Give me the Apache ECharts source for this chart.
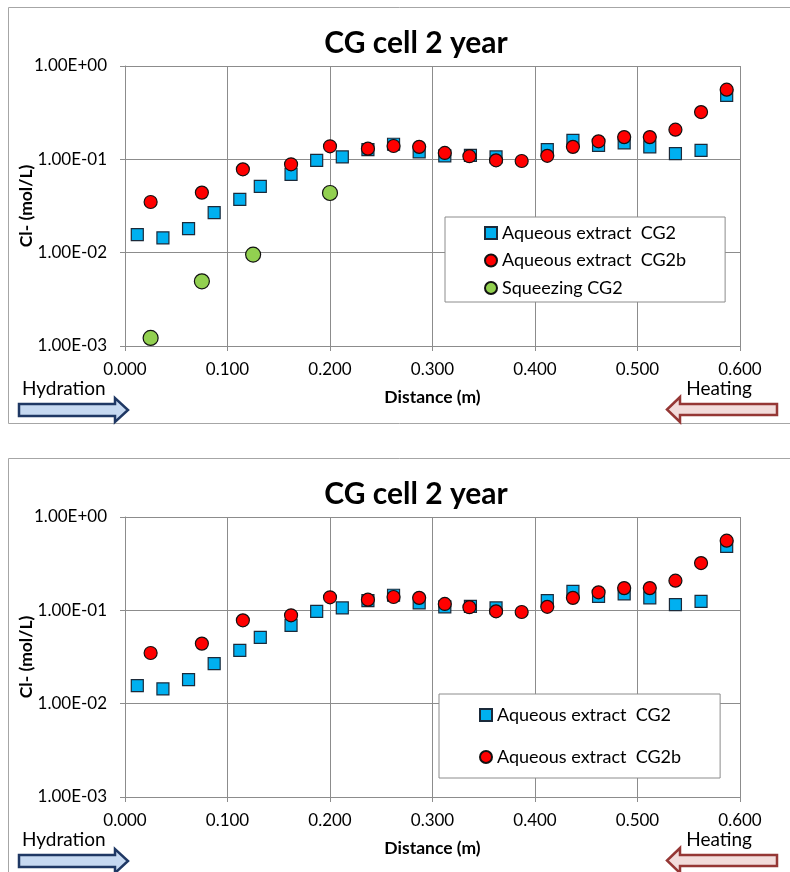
<!DOCTYPE html>
<html><head><meta charset="utf-8">
<script src="https://cdn.jsdelivr.net/npm/echarts/dist/echarts.min.js"></script>
<style>html,body{margin:0;padding:0;background:#fff}#c{width:790px;height:872px}</style>
</head><body><div id="c"></div>
<script>
// ---- data ----
const chartTitle = 'CG cell 2 year';
const xTicks = [0.0, 0.1, 0.2, 0.3, 0.4, 0.5, 0.6];
const yTicks = [0.001, 0.01, 0.1, 1];
const cg2X  = [0.012,0.037,0.062,0.087,0.112,0.132,0.162,0.187,0.212,0.237,0.262,0.287,0.312,0.337,0.362,0.412,0.437,0.462,0.487,0.512,0.537,0.562,0.587];
const cg2Y  = [0.0156,0.0144,0.0181,0.0269,0.0373,0.0514,0.0691,0.0976,0.106,0.127,0.145,0.120,0.109,0.110,0.106,0.127,0.160,0.141,0.150,0.136,0.115,0.125,0.485];
const cg2bX = [0.025,0.075,0.115,0.162,0.200,0.237,0.262,0.287,0.312,0.336,0.362,0.387,0.412,0.437,0.462,0.487,0.512,0.537,0.562,0.587];
const cg2bY = [0.0349,0.044,0.0782,0.0885,0.138,0.130,0.139,0.136,0.117,0.108,0.0976,0.096,0.109,0.136,0.156,0.173,0.173,0.208,0.321,0.558];
const sqzX  = [0.025,0.075,0.125,0.200];
const sqzY  = [0.00122,0.00493,0.00953,0.0436];
const nameCG2 = 'Aqueous extract  CG2';
const nameCG2b = 'Aqueous extract  CG2b';
const nameSqz = 'Squeezing CG2';

// ---- build ----
const FONT = 'Lato';
const pairs = (xs, ys) => xs.map((x, i) => [x, ys[i]]);
const fmtY = v => {
  const e = Math.round(Math.log10(v));
  return '1.00E' + (e < 0 ? '-' : '+') + String(Math.abs(e)).padStart(2, '0');
};
const GRID_COL = '#8c8c8c';
const OFF = 451;

function xAxis(gi) {
  return {
    type: 'value', gridIndex: gi, min: xTicks[0], max: xTicks[xTicks.length - 1], interval: 0.1,
    name: 'Distance (m)', nameLocation: 'middle', nameGap: 42, nameMoveOverlap: false,
    nameTextStyle: {fontFamily: FONT, fontWeight: 'bold', fontSize: 17.5, color: '#000'},
    axisLine: {show: true, lineStyle: {color: GRID_COL, width: 1}},
    axisTick: {show: true, length: 5, inside: false, lineStyle: {color: GRID_COL}},
    axisLabel: {fontFamily: FONT, fontSize: 17, color: '#000', margin: 15, formatter: v => v.toFixed(3)},
    splitLine: {show: true, lineStyle: {color: GRID_COL, width: 1}}
  };
}
function yAxis(gi) {
  return {
    type: 'log', logBase: 10, gridIndex: gi, min: yTicks[0], max: yTicks[yTicks.length - 1],
    name: 'Cl- (mol/L)', nameLocation: 'middle', nameGap: 90, nameRotate: 90, nameMoveOverlap: false,
    nameTextStyle: {fontFamily: FONT, fontWeight: 'bold', fontSize: 17.5, color: '#000'},
    axisLine: {show: true, lineStyle: {color: GRID_COL, width: 1}},
    axisTick: {show: true, length: 5, inside: false, lineStyle: {color: GRID_COL}},
    axisLabel: {fontFamily: FONT, fontSize: 17, color: '#000', margin: 18, formatter: fmtY},
    splitLine: {show: true, lineStyle: {color: GRID_COL, width: 1}},
    minorTick: {show: false}, minorSplitLine: {show: false}
  };
}
const sq = (gi) => ({
  name: nameCG2, type: 'scatter', xAxisIndex: gi, yAxisIndex: gi, symbol: 'rect', symbolSize: 12, z: 2,
  itemStyle: {color: '#00B0F0', borderColor: '#1b2a3a', borderWidth: 1.2, opacity: 1},
  data: pairs(cg2X, cg2Y)
});
const rc = (gi) => ({
  name: nameCG2b, type: 'scatter', xAxisIndex: gi, yAxisIndex: gi, symbol: 'circle', symbolSize: 13, z: 3,
  itemStyle: {color: '#FF0000', borderColor: '#111', borderWidth: 1.2, opacity: 1},
  data: pairs(cg2bX, cg2bY)
});
const gc = {
  name: nameSqz, type: 'scatter', xAxisIndex: 0, yAxisIndex: 0, symbol: 'circle', symbolSize: 15, z: 4,
  itemStyle: {color: '#92D050', borderColor: '#111', borderWidth: 1.2, opacity: 1},
  data: pairs(sqzX, sqzY)
};

function decorations(dy) {
  return [
    {type: 'rect', silent: true, shape: {x: 8.5, y: 7.5 + dy, width: 800, height: 416}, style: {fill: null, stroke: '#a6a6a6', lineWidth: 1}},
    {type: 'text', silent: true, x: 416, y: 43 + dy, style: {text: chartTitle, fontFamily: FONT, fontWeight: 'bold', fontSize: 30, fill: '#000', align: 'center', verticalAlign: 'middle'}},
    {type: 'text', silent: true, x: 22, y: 389 + dy, style: {text: 'Hydration', fontFamily: FONT, fontSize: 19, fill: '#000', align: 'left', verticalAlign: 'middle'}},
    {type: 'text', silent: true, x: 752, y: 389 + dy, style: {text: 'Heating', fontFamily: FONT, fontSize: 19, fill: '#000', align: 'right', verticalAlign: 'middle'}},
    {type: 'polygon', silent: true, shape: {points: [[19,404+dy],[115,404+dy],[115,398+dy],[128,410+dy],[115,422+dy],[115,416+dy],[19,416+dy]]},
      style: {fill: '#C6D9F1', stroke: '#1F3864', lineWidth: 2.5, lineJoin: 'miter'}},
    {type: 'polygon', silent: true, shape: {points: [[777,404+dy],[680,404+dy],[680,397+dy],[667,409.5+dy],[680,422+dy],[680,415+dy],[777,415+dy]]},
      style: {fill: '#F2DCDB', stroke: '#953735', lineWidth: 2.5, lineJoin: 'miter'}}
  ];
}

const legendText = {fontFamily: FONT, fontSize: 18, color: '#000', lineHeight: 20};
const option = {
  backgroundColor: '#fff',
  animation: false,
  grid: [
    {left: 125, top: 66, width: 615, height: 280, containLabel: false, outerBoundsMode: 'none'},
    {left: 125, top: 66 + OFF, width: 615, height: 280, containLabel: false, outerBoundsMode: 'none'}
  ],
  xAxis: [xAxis(0), xAxis(1)],
  yAxis: [yAxis(0), yAxis(1)],
  legend: [
    {orient: 'vertical', left: 445, top: 217, padding: [6, 39, 4, 39], itemGap: 7.5, itemWidth: 12, itemHeight: 12,
      borderColor: '#8c8c8c', borderWidth: 1, backgroundColor: '#fff', textStyle: legendText, selectedMode: false,
      data: [{name: nameCG2, icon: 'rect'}, {name: nameCG2b, icon: 'circle'}, {name: nameSqz, icon: 'circle'}]},
    {orient: 'vertical', left: 439, top: 694, padding: [11, 39, 11, 40], itemGap: 22, itemWidth: 12, itemHeight: 12,
      borderColor: '#8c8c8c', borderWidth: 1, backgroundColor: '#fff', textStyle: legendText, selectedMode: false,
      data: [{name: nameCG2, icon: 'rect'}, {name: nameCG2b, icon: 'circle'}]}
  ],
  series: [sq(0), rc(0), gc, sq(1), rc(1)],
  graphic: decorations(0).concat(decorations(OFF))
};
const chart = echarts.init(document.getElementById('c'), null, {renderer: 'canvas'});
chart.setOption(option);
</script></body></html>
